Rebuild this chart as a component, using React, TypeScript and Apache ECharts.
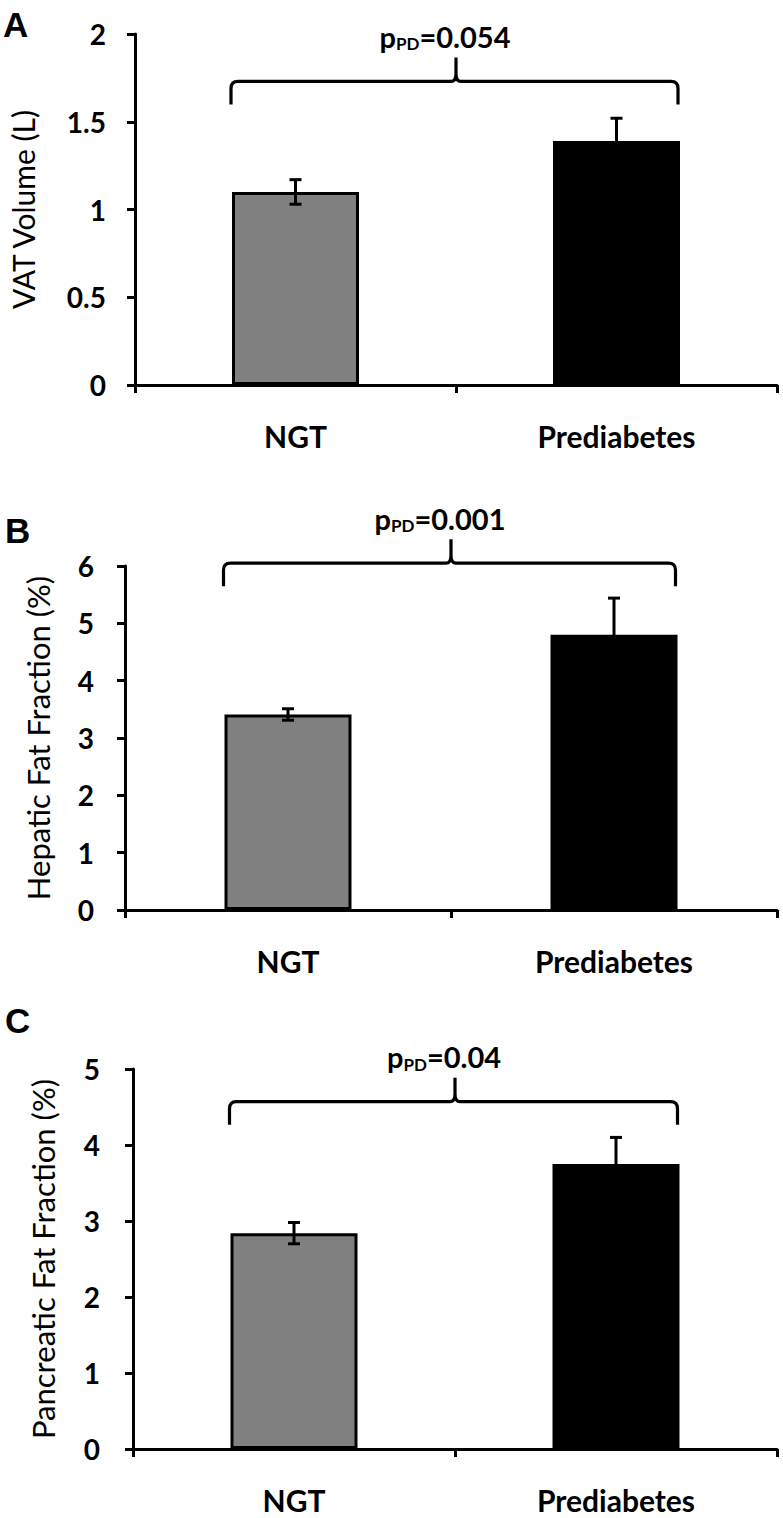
import React, { useEffect, useRef } from "react";
import * as echarts from "echarts";

// ---- data ----
const categories = ["NGT", "Prediabetes"];
const panelLetters = ["A", "B", "C"];
const yAxisTitles = ["VAT Volume (L)", "Hepatic Fat Fraction (%)", "Pancreatic Fat Fraction (%)"];
const yMax = [2, 6, 5];
const yInterval = [0.5, 1, 1];

const vatMeans = [1.1, 1.39];
const vatErrors = [0.07, 0.13];
const hepaticMeans = [3.41, 4.8];
const hepaticErrors = [0.1, 0.64];
const pancreaticMeans = [2.84, 3.75];
const pancreaticErrors = [0.14, 0.35];

const pValues = ["0.054", "0.001", "0.04"];
const braceLevels = [1.73, 6.05, 4.57];

const means = [vatMeans, hepaticMeans, pancreaticMeans];
const errors = [vatErrors, hepaticErrors, pancreaticErrors];

// ---- layout / style ----
const FONT = "Lato";
const grids = [
  { left: 125, top: 34, width: 652, height: 351 },
  { left: 125, top: 566, width: 652, height: 344 },
  { left: 133, top: 1069, width: 644, height: 380 },
];
const titleSizes = [30, 31, 31];
const nameGaps = [97, 72, 75];
const labelMargins = [29, 31, 33];
const letterPos = [
  { x: 3, y: 24 },
  { x: 5, y: 530 },
  { x: 5, y: 1020 },
];
const BAR_W = 127;
const barColors = ["#808080", "#000000"];

export default function App() {
  const ref = useRef<HTMLDivElement>(null);

  useEffect(() => {
    document.body.style.margin = "0";
    if (!ref.current) return;
    const chart = echarts.init(ref.current, null, { renderer: "svg" });

    const xAxis: any[] = [];
    const yAxis: any[] = [];
    const series: any[] = [];

    grids.forEach((g, k) => {
      xAxis.push({
        type: "category",
        gridIndex: k,
        data: categories,
        boundaryGap: true,
        axisLine: { lineStyle: { color: "#000", width: 3 } },
        axisTick: { show: true, length: 8, lineStyle: { color: "#000", width: 3 } },
        axisLabel: {
          margin: 36,
          color: "#000",
          fontFamily: FONT,
          fontWeight: "bold",
          fontSize: 30,
        },
        splitLine: { show: false },
      });
      yAxis.push({
        type: "value",
        gridIndex: k,
        min: 0,
        max: yMax[k],
        interval: yInterval[k],
        name: yAxisTitles[k],
        nameLocation: "middle",
        nameGap: nameGaps[k],
        nameRotate: 90,
        nameTextStyle: { color: "#000", fontFamily: FONT, fontSize: titleSizes[k], fontWeight: "normal" },
        axisLine: { show: true, lineStyle: { color: "#000", width: 3 } },
        axisTick: { show: true, length: 8, lineStyle: { color: "#000", width: 3 } },
        axisLabel: {
          margin: labelMargins[k],
          color: "#000",
          fontFamily: FONT,
          fontWeight: "bold",
          fontSize: 28,
        },
        splitLine: { show: false },
      });

      series.push({
        type: "bar",
        xAxisIndex: k,
        yAxisIndex: k,
        barWidth: BAR_W,
        data: means[k].map((v, i) => ({
          value: v,
          itemStyle: {
            color: barColors[i],
            borderColor: "#000",
            borderWidth: 3,
          },
        })),
        z: 2,
      });

      series.push({
        type: "custom",
        xAxisIndex: k,
        yAxisIndex: k,
        z: 5,
        data: means[k].map((v, i) => [i, v, errors[k][i]]),
        encode: { x: 0, y: 1 },
        renderItem: (params: any, api: any) => {
          const i = api.value(0);
          const m = api.value(1);
          const e = api.value(2);
          const top = api.coord([i, m + e]);
          const bot = api.coord([i, m - e]);
          const x = top[0];
          const hw = 6;
          const st = { stroke: "#000", lineWidth: 3 };
          return {
            type: "group",
            children: [
              { type: "line", shape: { x1: x, y1: top[1], x2: x, y2: bot[1] }, style: st },
              { type: "line", shape: { x1: x - hw, y1: top[1], x2: x + hw, y2: top[1] }, style: st },
              { type: "line", shape: { x1: x - hw, y1: bot[1], x2: x + hw, y2: bot[1] }, style: st },
            ],
          };
        },
      });

      series.push({
        type: "custom",
        xAxisIndex: k,
        yAxisIndex: k,
        z: 6,
        clip: false,
        data: [[0, braceLevels[k]]],
        encode: { x: 0, y: 1 },
        renderItem: (params: any, api: any) => {
          const lvl = api.value(1);
          const p0 = api.coord([0, lvl]);
          const p1 = api.coord([1, lvl]);
          const y0 = p0[1];
          const xl = p0[0] - BAR_W / 2 - 1;
          const xr = p1[0] + BAR_W / 2 - 2;
          const xm = (p0[0] + p1[0]) / 2;
          const r = 7;
          const drop = 23;
          const rise = 24;
          const d =
            `M${xl},${y0 + drop} L${xl},${y0 + r} Q${xl},${y0} ${xl + r},${y0} ` +
            `L${xm - 5},${y0} Q${xm},${y0} ${xm},${y0 - 8} L${xm},${y0 - rise} ` +
            `M${xm},${y0 - 8} Q${xm},${y0} ${xm + 5},${y0} ` +
            `L${xr - r},${y0} Q${xr},${y0} ${xr},${y0 + r} L${xr},${y0 + drop}`;
          return {
            type: "group",
            children: [
              {
                type: "path",
                shape: { pathData: d },
                style: { stroke: "#000", lineWidth: 3.2, fill: "none" },
              },
              {
                type: "text",
                x: xm - 11,
                y: y0 - 45,
                style: {
                  text: `{p|p}{s|PD}{v|=${pValues[k]}}`,
                  align: "center",
                  verticalAlign: "middle",
                  fill: "#000",
                  rich: {
                    p: { fontFamily: FONT, fontWeight: "bold", fontSize: 29, lineHeight: 32, fill: "#000" },
                    s: {
                      fontFamily: FONT,
                      fontWeight: "bold",
                      fontSize: 17,
                      lineHeight: 17,
                      verticalAlign: "bottom",
                      fill: "#000",
                    },
                    v: { fontFamily: FONT, fontWeight: "bold", fontSize: 29, lineHeight: 32, fill: "#000" },
                  },
                },
              },
            ],
          };
        },
      });
    });

    chart.setOption({
      animation: false,
      backgroundColor: "#ffffff",
      grid: grids.map((g) => ({ ...g, containLabel: false })),
      xAxis,
      yAxis,
      series,
      graphic: panelLetters.map((t, k) => ({
        type: "text",
        x: letterPos[k].x,
        y: letterPos[k].y,
        style: {
          text: t,
          fontFamily: "Liberation Sans",
          fontWeight: "bold",
          fontSize: 35,
          fill: "#000",
          verticalAlign: "middle",
        },
      })),
    });

    return () => chart.dispose();
  }, []);

  return <div ref={ref} style={{ width: 783, height: 1518 }} />;
}
